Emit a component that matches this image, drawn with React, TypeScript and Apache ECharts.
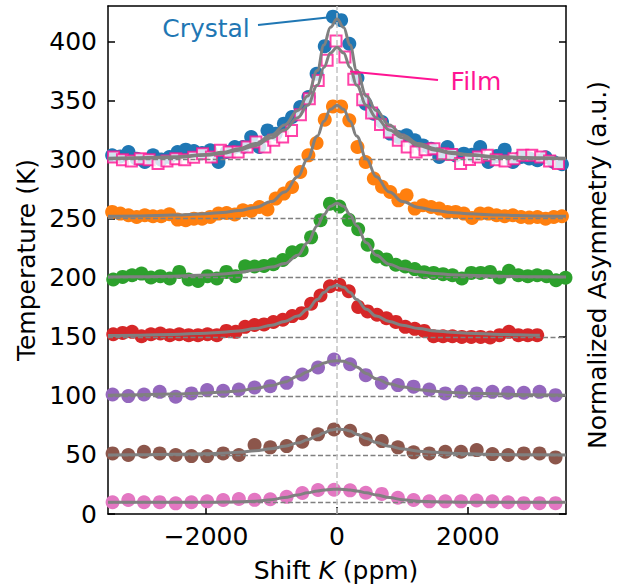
import React, { useEffect, useRef } from "react";
import * as echarts from "echarts";

// ---- x positions (ppm) ----
const XA = [-3430, -3190, -2950, -2710, -2465, -2225, -1985, -1740, -1500, -1260, -1020, -770, -530, -290, -45, 200, 440, 685, 930, 1170, 1410, 1655, 1895, 2135, 2375, 2615, 2855, 3095, 3340];
const XB = [-3420, -3276, -3132, -2988, -2844, -2700, -2556, -2412, -2268, -2124, -1980, -1836, -1692, -1548, -1404, -1260, -1116, -972, -828, -684, -540, -396, -252, -108, 36, 180, 324, 468, 612, 756, 900, 1044, 1188, 1332, 1476, 1620, 1764, 1908, 2052, 2196, 2340, 2484, 2628, 2772, 2916, 3060, 3204, 3348, 3492];
const XC = [-3437, -3312, -3187, -3062, -2937, -2812, -2687, -2562, -2437, -2312, -2187, -2062, -1937, -1812, -1687, -1562, -1437, -1312, -1187, -1062, -937, -812, -687, -562, -437, -312, -187, -62, 63, 188, 313, 438, 563, 688, 813, 938, 1063, 1188, 1313, 1438, 1563, 1688, 1813, 1938, 2063, 2188, 2313, 2438, 2563, 2688, 2813, 2938, 3063, 3188, 3313, 3438];
const XF = [-3415, -3279, -3143, -3007, -2871, -2735, -2599, -2463, -2327, -2191, -2055, -1919, -1783, -1647, -1511, -1375, -1239, -1103, -967, -831, -695, -559, -423, -287, -151, -15, 121, 257, 393, 529, 665, 801, 937, 1073, 1209, 1345, 1481, 1617, 1753, 1889, 2025, 2161, 2297, 2433, 2569, 2705, 2841, 2977, 3113, 3249, 3385];

// ---- measured points (temperature offset + asymmetry) ----
const CRYSTAL = [303.6, 302.7, 306.4, 300.8, 298.0, 303.6, 300.0, 302.2, 306.4, 308.4, 307.3, 305.6, 307.8, 298.0, 306.4, 310.6, 310.6, 319.1, 310.6, 324.7, 321.9, 330.4, 336.0, 344.5, 353.0, 372.7, 396.0, 421.0, 418.0, 398.0, 369.0, 347.3, 338.8, 331.8, 322.0, 319.1, 320.5, 316.3, 312.0, 309.2, 302.2, 310.6, 303.6, 305.0, 304.0, 310.6, 297.9, 303.0, 308.4, 297.9, 302.2, 301.0, 299.4, 302.0, 297.9, 296.0];
const FILM = [302.2, 299.9, 298.8, 300.8, 299.9, 296.6, 298.8, 300.8, 299.9, 302.0, 305.0, 302.2, 307.8, 306.4, 306.4, 310.6, 314.8, 310.6, 316.3, 319.1, 324.7, 338.0, 351.5, 367.0, 384.0, 400.3, 386.8, 367.9, 350.7, 339.4, 329.8, 323.3, 316.3, 310.6, 306.4, 308.4, 309.2, 305.0, 304.2, 296.6, 300.0, 302.2, 303.6, 299.9, 298.8, 300.8, 303.6, 303.6, 302.2, 298.8, 296.6];
const ORANGE = [255.7, 254.3, 252.9, 251.4, 252.9, 252.0, 252.0, 253.7, 249.2, 248.6, 250.0, 250.0, 251.5, 254.3, 254.8, 253.5, 257.1, 256.5, 259.9, 257.7, 267.0, 271.2, 276.8, 289.5, 303.6, 314.0, 333.8, 345.0, 345.0, 333.2, 310.6, 297.9, 284.0, 277.0, 272.6, 265.5, 269.8, 258.5, 261.3, 259.9, 258.5, 255.7, 255.7, 254.3, 250.5, 254.3, 254.3, 252.9, 252.0, 252.9, 251.4, 250.9, 251.4, 250.0, 251.4, 252.0];
const GREEN = [198.5, 200.7, 202.1, 203.5, 200.2, 201.3, 199.3, 204.9, 198.5, 197.3, 201.3, 199.3, 204.9, 201.3, 209.7, 209.5, 210.0, 211.5, 215.0, 221.5, 223.3, 234.2, 248.6, 262.7, 260.2, 249.0, 241.0, 228.0, 218.0, 215.5, 211.0, 209.5, 207.3, 204.7, 204.1, 203.0, 202.1, 199.3, 204.1, 204.1, 204.9, 200.2, 205.8, 202.1, 201.3, 202.1, 201.3, 197.9, 200.0];
const RED = [152.2, 153.3, 154.2, 150.5, 152.2, 152.8, 151.4, 152.2, 151.4, 151.4, 152.2, 151.4, 155.0, 154.2, 158.4, 160.0, 160.5, 162.5, 164.4, 167.5, 170.0, 178.0, 185.0, 192.8, 194.0, 188.5, 175.3, 171.5, 168.7, 165.7, 162.6, 158.4, 156.7, 155.0, 150.5, 150.5, 150.5, 149.9, 149.9, 149.9, 149.4, 151.4, 154.2, 151.4, 151.4, 151.4];
const PURPLE = [101.2, 99.8, 101.2, 103.4, 99.2, 102.1, 104.9, 104.3, 105.4, 107.1, 108.2, 111.0, 118.1, 124.0, 130.8, 126.8, 117.5, 111.0, 109.1, 107.8, 105.4, 102.1, 103.4, 102.1, 103.4, 102.6, 102.6, 103.4, 100.6];
const BROWN = [51.3, 49.9, 52.7, 51.3, 49.9, 49.0, 49.0, 51.3, 49.9, 58.4, 56.4, 57.5, 61.2, 67.4, 71.6, 70.5, 63.2, 61.7, 56.4, 52.2, 51.3, 52.7, 52.7, 54.1, 50.7, 49.9, 51.3, 51.3, 47.9];
const PINK = [9.9, 11.8, 9.9, 10.0, 9.0, 9.9, 10.7, 11.8, 12.7, 12.0, 12.5, 14.5, 17.8, 20.3, 20.5, 20.0, 18.0, 17.0, 13.8, 11.8, 10.7, 10.7, 10.7, 11.4, 10.7, 9.9, 9.2, 9.2, 9.2];

// ---- fit curves ----
const CX = [-3500, -3000, -2500, -2000, -1750, -1500, -1250, -1000, -800, -600, -450, -300, -200, -100, 0, 100, 200, 300, 450, 600, 800, 1000, 1250, 1500, 1750, 2000, 2500, 3000, 3500];
const CX_RED = [-3500, -3000, -2500, -2000, -1750, -1500, -1250, -1000, -800, -600, -450, -300, -200, -100, 0, 100, 200, 300, 450, 600, 800, 1000, 1250, 1500, 1750, 2000, 2500, 3000, 3100];
const CRYSTAL_FIT = [301.2, 301.6, 302.4, 304.3, 306.2, 309.1, 313.6, 320.8, 329.3, 341.5, 353.9, 375.3, 397, 412, 419, 412, 397, 375.3, 353.9, 341.5, 329.3, 320.8, 313.6, 309.1, 306.2, 304.3, 302.4, 301.6, 301.2];
const FILM_FIT = [300.8, 301.1, 301.8, 303.6, 305.2, 307.9, 311.8, 318.5, 325.1, 335.5, 345.9, 362.9, 378, 390.3, 395, 390.3, 378, 362.9, 345.9, 335.5, 325.1, 318.5, 311.8, 307.9, 305.2, 303.6, 301.8, 301.1, 300.8];
const ORANGE_FIT = [252, 252.3, 253, 254.2, 255.2, 256.8, 259.5, 264.5, 272.5, 285.5, 300.5, 320, 332.5, 342.5, 346, 342.5, 332.5, 320, 300.5, 285.5, 272.5, 264.5, 259.5, 256.8, 255.2, 254.2, 253, 252.3, 252];
const GREEN_FIT = [200.6, 200.8, 201.3, 202.3, 203.2, 204.5, 206.5, 209, 212, 219, 229.5, 244, 253.5, 260.5, 263, 260.5, 253.5, 244, 229.5, 219, 211.5, 207.5, 205, 203.6, 202.6, 202, 201.2, 200.8, 200.6];
const RED_FIT = [151, 151.3, 152, 153, 153.8, 155, 157, 159.8, 163, 167.5, 173.3, 181.5, 187.5, 191.9, 193.7, 191.9, 187.5, 181.5, 173.3, 167.5, 163, 159.8, 157, 155, 153.8, 153, 152, 151.3, 151.2];
const PURPLE_FIT = [100.6, 101, 101.6, 102.5, 103.2, 104.2, 106.3, 108.7, 111.8, 116.5, 120.5, 125.4, 127.8, 129.3, 129.7, 129.3, 127.3, 124.5, 119, 114.5, 110.3, 107.5, 105.2, 103.8, 102.9, 102.3, 101.5, 101, 100.6];
const BROWN_FIT = [50, 50.2, 50.5, 51, 51.5, 52.2, 53.6, 55.3, 57.3, 60, 62.8, 66.3, 68.8, 71, 71.9, 71.6, 70.3, 67.6, 64, 60.5, 57.3, 55, 53.2, 52.2, 51.4, 50.9, 50.4, 50.1, 50];
const PINK_FIT = [10, 10, 10, 10, 10.1, 10.3, 10.8, 12.1, 13.9, 16.1, 17.9, 19.5, 20.3, 20.8, 21, 20.8, 20.3, 19.5, 17.9, 16.1, 13.9, 12.1, 10.8, 10.3, 10.1, 10, 10, 10, 10];

// ---- reference lines & ticks ----
const BASELINES = [300, 250, 200, 150, 100, 50, 10];
const X_TICKS = [-2000, 0, 2000];
const Y_TICKS = [0, 50, 100, 150, 200, 250, 300, 350, 400];

const FONT = "DejaVu Sans";
const pair = (xs: number[], ys: number[]) => ys.map((y, i) => [xs[i], y]);

export default function App() {
  const ref = useRef<HTMLDivElement>(null);
  useEffect(() => {
    if (!ref.current) return;
    const chart = echarts.init(ref.current, undefined, { renderer: "svg" });

    const dots = (name: string, xs: number[], ys: number[], color: string) => ({
      name,
      type: "scatter",
      data: pair(xs, ys),
      symbol: "circle",
      symbolSize: 14,
      itemStyle: { color, opacity: 1 },
      z: 2,
      silent: true,
    });
    const fit = (name: string, xs: number[], ys: number[]) => ({
      name,
      type: "line",
      data: pair(xs, ys),
      showSymbol: false,
      smooth: 0.4,
      smoothMonotone: "x",
      lineStyle: { color: "#808080", width: 3 },
      z: 5,
      silent: true,
    });

    const axisFont = { fontFamily: FONT, fontSize: 25, color: "#000" };

    chart.setOption({
      animation: false,
      textStyle: { fontFamily: FONT },
      grid: { left: 108, right: 54, top: 6, bottom: 71, show: false },
      xAxis: [
        {
          type: "value",
          min: -3500,
          max: 3500,
          position: "bottom",
          axisLine: { show: true, onZero: false, lineStyle: { color: "#000", width: 1.5 } },
          axisTick: { show: true, inside: true, length: 7, customValues: X_TICKS, lineStyle: { color: "#000", width: 1.5 } },
          axisLabel: {
            ...axisFont,
            margin: 10,
            customValues: X_TICKS,
            formatter: (v: number) => String(v).replace("-", "\u2212"),
          },
          splitLine: { show: false },
        },
        {
          type: "value",
          min: -3500,
          max: 3500,
          position: "top",
          axisLine: { show: true, onZero: false, lineStyle: { color: "#000", width: 1.5 } },
          axisTick: { show: false },
          axisLabel: { show: false },
          splitLine: { show: false },
        },
      ],
      yAxis: [
        {
          type: "value",
          min: 0,
          max: 430,
          position: "left",
          axisLine: { show: true, onZero: false, lineStyle: { color: "#000", width: 1.5 } },
          axisTick: { show: true, inside: true, length: 7, customValues: Y_TICKS, lineStyle: { color: "#000", width: 1.5 } },
          axisLabel: { ...axisFont, margin: 11, customValues: Y_TICKS },
          splitLine: { show: false },
        },
        {
          type: "value",
          min: 0,
          max: 430,
          position: "right",
          axisLine: { show: true, onZero: false, lineStyle: { color: "#000", width: 1.5 } },
          axisTick: { show: true, inside: true, length: 7, customValues: Y_TICKS, lineStyle: { color: "#000", width: 1.5 } },
          axisLabel: { show: false },
          splitLine: { show: false },
        },
      ],
      series: [
        {
          name: "guides",
          type: "line",
          data: [],
          z: 1,
          silent: true,
          markLine: {
            silent: true,
            symbol: "none",
            label: { show: false },
            data: [
              ...BASELINES.map((b) => ({
                yAxis: b,
                lineStyle: { color: "#808080", width: 1.3, type: [5, 2.5] },
              })),
              { xAxis: 0, lineStyle: { color: "#c4c4c4", width: 1.5, type: [6, 3] } },
            ],
          },
        },
        dots("10 K", XA, PINK, "#e377c2"),
        dots("50 K", XA, BROWN, "#8c564b"),
        dots("100 K", XA, PURPLE, "#9467bd"),
        dots("150 K", XB, RED, "#d62728"),
        dots("200 K", XB, GREEN, "#2ca02c"),
        dots("250 K", XC, ORANGE, "#ff7f0e"),
        dots("Crystal", XC, CRYSTAL, "#1f77b4"),
        {
          name: "Film",
          type: "scatter",
          data: pair(XF, FILM),
          symbol: "rect",
          symbolSize: 11,
          itemStyle: { color: "#ffffff", borderColor: "#ff1493", borderWidth: 2 },
          z: 3,
          silent: true,
        },
        fit("fit 10 K", CX, PINK_FIT),
        fit("fit 50 K", CX, BROWN_FIT),
        fit("fit 100 K", CX, PURPLE_FIT),
        fit("fit 150 K", CX_RED, RED_FIT),
        fit("fit 200 K", CX, GREEN_FIT),
        fit("fit 250 K", CX, ORANGE_FIT),
        fit("fit Crystal", CX, CRYSTAL_FIT),
        fit("fit Film", CX, FILM_FIT),
      ],
      graphic: [
        {
          type: "text",
          x: 206,
          y: 28,
          z: 20,
          style: { text: "Crystal", fill: "#1f77b4", fontFamily: FONT, fontSize: 25, align: "center", verticalAlign: "middle" },
        },
        {
          type: "line",
          z: 20,
          shape: { x1: 258, y1: 25, x2: 332, y2: 17 },
          style: { stroke: "#1f77b4", lineWidth: 2 },
        },
        {
          type: "text",
          x: 476,
          y: 81,
          z: 20,
          style: { text: "Film", fill: "#ff1493", fontFamily: FONT, fontSize: 25, align: "center", verticalAlign: "middle" },
        },
        {
          type: "line",
          z: 20,
          shape: { x1: 350, y1: 71.5, x2: 438, y2: 80 },
          style: { stroke: "#ff1493", lineWidth: 2 },
        },
        {
          type: "text",
          x: 336,
          y: 570,
          z: 20,
          style: {
            text: "{a|Shift }{b|K}{a| (ppm)}",
            align: "center",
            verticalAlign: "middle",
            rich: {
              a: { fontFamily: FONT, fontSize: 25, fill: "#000", color: "#000" },
              b: { fontFamily: FONT, fontSize: 25, fontStyle: "italic", fill: "#000", color: "#000" },
            },
          },
        },
        {
          type: "text",
          x: 26,
          y: 260,
          rotation: Math.PI / 2,
          z: 20,
          style: { text: "Temperature (K)", fill: "#000", fontFamily: FONT, fontSize: 25, align: "center", verticalAlign: "middle" },
        },
        {
          type: "text",
          x: 597,
          y: 265,
          rotation: Math.PI / 2,
          z: 20,
          style: { text: "Normalized Asymmetry (a.u.)", fill: "#000", fontFamily: FONT, fontSize: 25, align: "center", verticalAlign: "middle" },
        },
      ],
    });
    return () => chart.dispose();
  }, []);

  return <div ref={ref} style={{ position: "absolute", left: 0, top: 0, width: 620, height: 585, background: "#fff" }} />;
}
